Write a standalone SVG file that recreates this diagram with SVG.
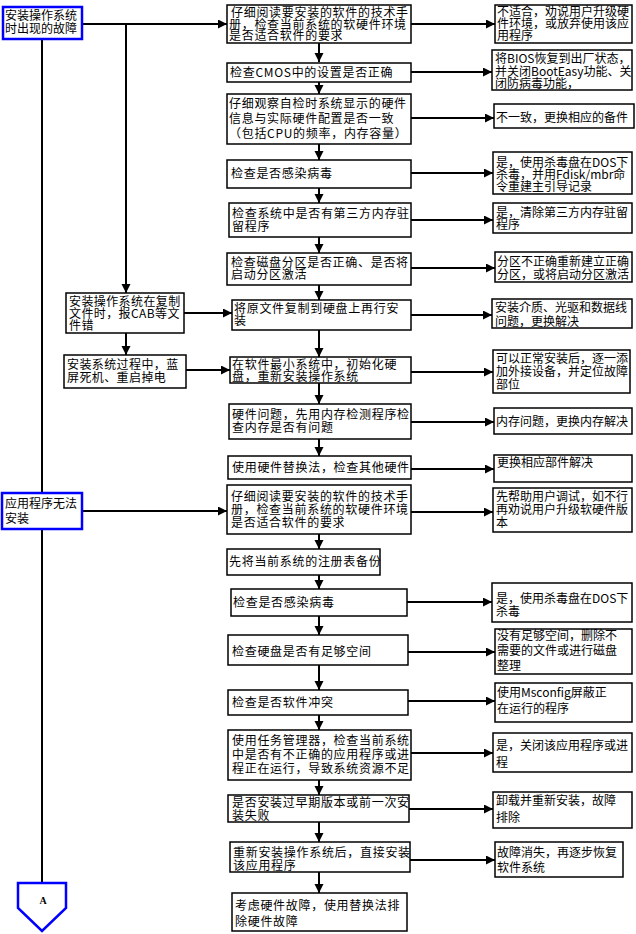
<svg xmlns="http://www.w3.org/2000/svg" width="636" height="934" viewBox="0 0 636 934">
<defs>
<marker id="ah" markerUnits="userSpaceOnUse" markerWidth="10" markerHeight="10" refX="9" refY="4.5" orient="auto">
<path d="M0,0 L9,4.5 L0,9 Z" fill="#000"/>
</marker>
</defs>
<style>
text{font-family:"Noto Sans CJK SC","Liberation Sans",sans-serif;font-size:12px;fill:#000}
.m text{letter-spacing:0.7px}
.l text{letter-spacing:0.4px}
.b{fill:#fff;stroke:#000;stroke-width:1.5}
.s{fill:#fff;stroke:#0000ff;stroke-width:2.5}
.c{fill:none;stroke:#000;stroke-width:2}
.a{marker-end:url(#ah)}
.lbl{font-family:"Liberation Serif",serif;font-size:10px;font-weight:bold}
</style>
<rect width="636" height="934" fill="#fff"/>
<g id="connectors">
<path class="c a" d="M82,24 H227"/>
<path class="c" d="M42,39 V493 M42,529 V883"/>
<path class="c a" d="M126,24 V293"/>
<path class="c a" d="M126,333 V355"/>
<path class="c a" d="M184,313 H232"/>
<path class="c a" d="M186,370 H230"/>
<path class="c a" d="M82,511 H227"/>
<path class="c a" d="M319,43 V62"/>
<path class="c a" d="M319,82 V94"/>
<path class="c a" d="M319,144 V160"/>
<path class="c a" d="M319,188 V203"/>
<path class="c a" d="M319,237 V253"/>
<path class="c a" d="M319,285 V300"/>
<path class="c a" d="M319,330 V357"/>
<path class="c a" d="M319,383 V404"/>
<path class="c a" d="M319,439 V456"/>
<path class="c a" d="M319,534 V549"/>
<path class="c a" d="M319,575 V589"/>
<path class="c a" d="M319,616 V635"/>
<path class="c a" d="M319,665 V690"/>
<path class="c a" d="M319,715 V730"/>
<path class="c a" d="M319,780 V795"/>
<path class="c a" d="M319,822 V842"/>
<path class="c a" d="M319,872 V893"/>
<path class="c a" d="M411,24 H495"/>
<path class="c a" d="M411,72 H492"/>
<path class="c a" d="M411,118 H494"/>
<path class="c a" d="M411,173 H493"/>
<path class="c a" d="M411,220 H493"/>
<path class="c a" d="M411,268 H495"/>
<path class="c a" d="M411,315 H492"/>
<path class="c a" d="M411,372 H493"/>
<path class="c a" d="M411,422 H494"/>
<path class="c a" d="M411,469 H494"/>
<path class="c a" d="M411,512 H493"/>
<path class="c a" d="M407,602 H492"/>
<path class="c a" d="M408,652 H495"/>
<path class="c a" d="M408,701 H495"/>
<path class="c a" d="M411,753 H493"/>
<path class="c a" d="M409,809 H493"/>
<path class="c a" d="M410,860 H495"/>
</g>
<g id="L1"><rect class="s" x="3" y="7" width="79" height="32"/><text x="5" y="20">安装操作系统</text><text x="5" y="33">时出现的故障</text></g>
<g id="L2" class="l"><rect class="b" x="66" y="293" width="118" height="40"/><text x="69" y="306">安装操作系统在复制</text><text x="69" y="318">文件时，报CAB等文</text><text x="69" y="330">件错</text></g>
<g id="L3" class="l"><rect class="b" x="64" y="355" width="122" height="33"/><text x="67" y="369">安装系统过程中，蓝</text><text x="67" y="382">屏死机、重启掉电</text></g>
<g id="L4"><rect class="s" x="2" y="493" width="80" height="36"/><text x="5" y="508">应用程序无法</text><text x="5" y="523">安装</text></g>
<g id="A"><path class="s" d="M18,883 H66 V908 L42,931 L18,908 Z"/><text class="lbl" x="43" y="904" text-anchor="middle">A</text></g>
<g id="B1" class="m"><rect class="b" x="227" y="5" width="184" height="38"/><text x="231" y="17">仔细阅读要安装的软件的技术手</text><text x="229" y="29">册，检查当前系统的软硬件环境</text><text x="229" y="40">是否适合软件的要求</text></g>
<g id="B2" class="m"><rect class="b" x="227" y="63" width="184" height="19"/><text x="230" y="77">检查CMOS中的设置是否正确</text></g>
<g id="B3" class="m"><rect class="b" x="227" y="94" width="184" height="50"/><text x="229" y="108">仔细观察自检时系统显示的硬件</text><text x="229" y="123">信息与实际硬件配置是否一致</text><text x="229" y="138">（包括CPU的频率，内存容量）</text></g>
<g id="B4" class="m"><rect class="b" x="227" y="160" width="184" height="28"/><text x="231" y="178">检查是否感染病毒</text></g>
<g id="B5" class="m"><rect class="b" x="229" y="203" width="182" height="34"/><text x="232" y="218">检查系统中是否有第三方内存驻</text><text x="232" y="231">留程序</text></g>
<g id="B6" class="m"><rect class="b" x="227" y="253" width="184" height="32"/><text x="231" y="267">检查磁盘分区是否正确、是否将</text><text x="231" y="279">启动分区激活</text></g>
<g id="B7" class="m"><rect class="b" x="232" y="300" width="179" height="30"/><text x="234" y="313">将原文件复制到硬盘上再行安</text><text x="234" y="325">装</text></g>
<g id="B8" class="m"><rect class="b" x="230" y="357" width="181" height="26"/><text x="232" y="369">在软件最小系统中，初始化硬</text><text x="232" y="381">盘，重新安装操作系统</text></g>
<g id="B9" class="m"><rect class="b" x="229" y="404" width="182" height="35"/><text x="232" y="419">硬件问题，先用内存检测程序检</text><text x="232" y="432">查内存是否有问题</text></g>
<g id="B10" class="m"><rect class="b" x="228" y="456" width="183" height="23"/><text x="232" y="472">使用硬件替换法，检查其他硬件</text></g>
<g id="B11" class="m"><rect class="b" x="227" y="485" width="184" height="49"/><text x="231" y="501">仔细阅读要安装的软件的技术手</text><text x="231" y="514">册，检查当前系统的软硬件环境</text><text x="231" y="527">是否适合软件的要求</text></g>
<g id="B12" class="m"><rect class="b" x="227" y="549" width="153" height="26"/><text x="229" y="566">先将当前系统的注册表备份</text></g>
<g id="B13" class="m"><rect class="b" x="231" y="589" width="176" height="27"/><text x="233" y="607">检查是否感染病毒</text></g>
<g id="B14" class="m"><rect class="b" x="228" y="635" width="180" height="30"/><text x="232" y="656">检查硬盘是否有足够空间</text></g>
<g id="B15" class="m"><rect class="b" x="228" y="690" width="180" height="25"/><text x="232" y="707">检查是否软件冲突</text></g>
<g id="B16" class="m"><rect class="b" x="228" y="730" width="183" height="50"/><text x="232" y="745">使用任务管理器，检查当前系统</text><text x="232" y="759">中是否有不正确的应用程序或进</text><text x="232" y="773">程正在运行，导致系统资源不足</text></g>
<g id="B17" class="m"><rect class="b" x="228" y="795" width="181" height="27"/><text x="232" y="807">是否安装过早期版本或前一次安</text><text x="232" y="820">装失败</text></g>
<g id="B18" class="m"><rect class="b" x="230" y="842" width="180" height="30"/><text x="233" y="857">重新安装操作系统后，直接安装</text><text x="233" y="870">该应用程序</text></g>
<g id="B19" class="m"><rect class="b" x="232" y="893" width="175" height="38"/><text x="235" y="910">考虑硬件故障，使用替换法排</text><text x="235" y="926">除硬件故障</text></g>
<g id="R1"><rect class="b" x="495" y="5" width="137" height="38"/><text x="497" y="16">不适合，劝说用户升级硬</text><text x="497" y="28">件环境，或放弃使用该应</text><text x="497" y="40">用程序</text></g>
<g id="R2"><rect class="b" x="492" y="50" width="140" height="40"/><text x="495" y="63">将BIOS恢复到出厂状态，</text><text x="495" y="76">并关闭BootEasy功能、关</text><text x="495" y="88">闭防病毒功能，</text></g>
<g id="R3"><rect class="b" x="494" y="104" width="140" height="24"/><text x="496" y="122">不一致，更换相应的备件</text></g>
<g id="R4"><rect class="b" x="493" y="152" width="139" height="42"/><text x="496" y="167">是，使用杀毒盘在DOS下</text><text x="496" y="179">杀毒，并用Fdisk/mbr命</text><text x="496" y="191">令重建主引导记录</text></g>
<g id="R5"><rect class="b" x="493" y="203" width="139" height="30"/><text x="496" y="217">是，清除第三方内存驻留</text><text x="496" y="229">程序</text></g>
<g id="R6"><rect class="b" x="495" y="252" width="137" height="30"/><text x="497" y="266">分区不正确重新建立正确</text><text x="497" y="279">分区，或将启动分区激活</text></g>
<g id="R7"><rect class="b" x="492" y="299" width="140" height="29"/><text x="495" y="312">安装介质、光驱和数据线</text><text x="495" y="326">问题，更换解决</text></g>
<g id="R8"><rect class="b" x="493" y="350" width="137" height="43"/><text x="496" y="363">可以正常安装后，逐一添</text><text x="496" y="376">加外接设备，并定位故障</text><text x="496" y="389">部位</text></g>
<g id="R9"><rect class="b" x="494" y="408" width="138" height="26"/><text x="496" y="426">内存问题，更换内存解决</text></g>
<g id="R10"><rect class="b" x="494" y="455" width="138" height="27"/><text x="497" y="467">更换相应部件解决</text></g>
<g id="R11"><rect class="b" x="493" y="488" width="139" height="44"/><text x="496" y="501">先帮助用户调试，如不行</text><text x="496" y="514">再劝说用户升级软硬件版</text><text x="496" y="527">本</text></g>
<g id="R12"><rect class="b" x="492" y="583" width="140" height="39"/><text x="496" y="603">是，使用杀毒盘在DOS下</text><text x="496" y="616">杀毒</text></g>
<g id="R13"><rect class="b" x="495" y="629" width="137" height="45"/><text x="497" y="640">没有足够空间，删除不</text><text x="497" y="655">需要的文件或进行磁盘</text><text x="497" y="670">整理</text></g>
<g id="R14"><rect class="b" x="495" y="683" width="137" height="39"/><text x="497" y="697">使用Msconfig屏蔽正</text><text x="497" y="713">在运行的程序</text></g>
<g id="R15"><rect class="b" x="493" y="733" width="139" height="39"/><text x="496" y="750">是，关闭该应用程序或进</text><text x="496" y="767">程</text></g>
<g id="R16"><rect class="b" x="493" y="792" width="139" height="36"/><text x="496" y="805">卸载并重新安装，故障</text><text x="496" y="822">排除</text></g>
<g id="R17"><rect class="b" x="495" y="842" width="128" height="35"/><text x="497" y="857">故障消失，再逐步恢复</text><text x="497" y="872">软件系统</text></g>
</svg>
